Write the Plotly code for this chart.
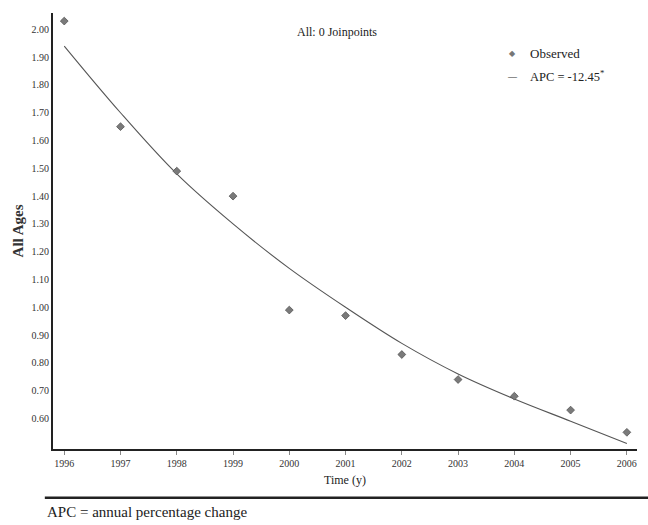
import plotly.graph_objects as go

years = [1996, 1997, 1998, 1999, 2000, 2001, 2002, 2003, 2004, 2005, 2006]
observed = [2.03, 1.65, 1.49, 1.40, 0.99, 0.97, 0.83, 0.74, 0.68, 0.63, 0.55]
fitted = [1.94, 1.70, 1.48, 1.30, 1.14, 1.00, 0.87, 0.76, 0.67, 0.59, 0.51]
y_ticks = [0.6, 0.7, 0.8, 0.9, 1.0, 1.1, 1.2, 1.3, 1.4, 1.5, 1.6, 1.7, 1.8, 1.9, 2.0]
y_labels = ["%.2f" % v for v in y_ticks]

FONT = "Liberation Serif"

fig = go.Figure()
fig.add_trace(go.Scatter(
    x=years, y=fitted, mode="lines", line=dict(color="#555555", width=1.1, shape="spline"),
    showlegend=False, hoverinfo="skip"))
fig.add_trace(go.Scatter(
    x=years, y=observed, mode="markers",
    marker=dict(symbol="diamond", size=6, color="#7a7a7a", line=dict(color="#555", width=0.8)),
    showlegend=False))

fig.update_layout(
    width=648, height=525,
    paper_bgcolor="white", plot_bgcolor="white",
    margin=dict(l=53, r=11, t=13, b=76),
    font=dict(family=FONT, color="#333"),
    showlegend=False,
    xaxis=dict(range=[1995.8, 2006.18], tickvals=years, ticktext=[str(y) for y in years],
               automargin=False,
               showgrid=False, zeroline=False, showline=True, linewidth=2.2, linecolor="#222",
               ticks="outside", ticklen=4, tickwidth=1, tickcolor="#888",
               tickfont=dict(size=10, color="#333", family=FONT),
               title=dict(text="Time (y)", font=dict(size=12, color="#222", family=FONT), standoff=8)),
    yaxis=dict(range=[0.49, 2.059], tickvals=y_ticks, ticktext=y_labels,
               automargin=False,
               showgrid=False, zeroline=False, showline=True, linewidth=2.2, linecolor="#222",
               ticks="", tickfont=dict(size=10, color="#333", family=FONT),
               title=dict(text="<b>All Ages</b>", font=dict(size=15, color="#333", family=FONT), standoff=4)),
)

fig.add_annotation(text="All: 0 Joinpoints", xref="paper", yref="paper", x=0.486, y=1.0,
                   xanchor="center", yanchor="top", yshift=-10, showarrow=False,
                   font=dict(size=12, color="#222", family=FONT))
fig.add_annotation(text="◆", xref="paper", yref="paper", x=0.787, y=0.907,
                   xanchor="center", yanchor="middle", showarrow=False,
                   font=dict(size=8, color="#777", family="DejaVu Sans"))
fig.add_annotation(text="Observed", xref="paper", yref="paper", x=0.814, y=0.907,
                   xanchor="left", yanchor="middle", showarrow=False,
                   font=dict(size=13, color="#222", family=FONT))
fig.add_annotation(text="—", xref="paper", yref="paper", x=0.787, y=0.855,
                   xanchor="center", yanchor="middle", showarrow=False,
                   font=dict(size=9, color="#333", family=FONT))
fig.add_annotation(text="APC = -12.45<sup>*</sup>", xref="paper", yref="paper", x=0.814, y=0.855,
                   xanchor="left", yanchor="middle", showarrow=False,
                   font=dict(size=12.5, color="#222", family=FONT))

fig.add_shape(type="line", xref="paper", yref="paper", x0=-0.014, x1=1.02, y0=-0.112, y1=-0.112,
              line=dict(color="#222", width=2.5))
fig.add_annotation(text="APC = annual percentage change", xref="paper", yref="paper",
                   x=-0.014, y=-0.145, xanchor="left", yanchor="middle", showarrow=False,
                   font=dict(size=15, color="#222", family=FONT))

fig.write_html("out.html", config={"displayModeBar": False},
               post_script="document.body.style.margin='0';document.body.style.overflow='hidden';")
